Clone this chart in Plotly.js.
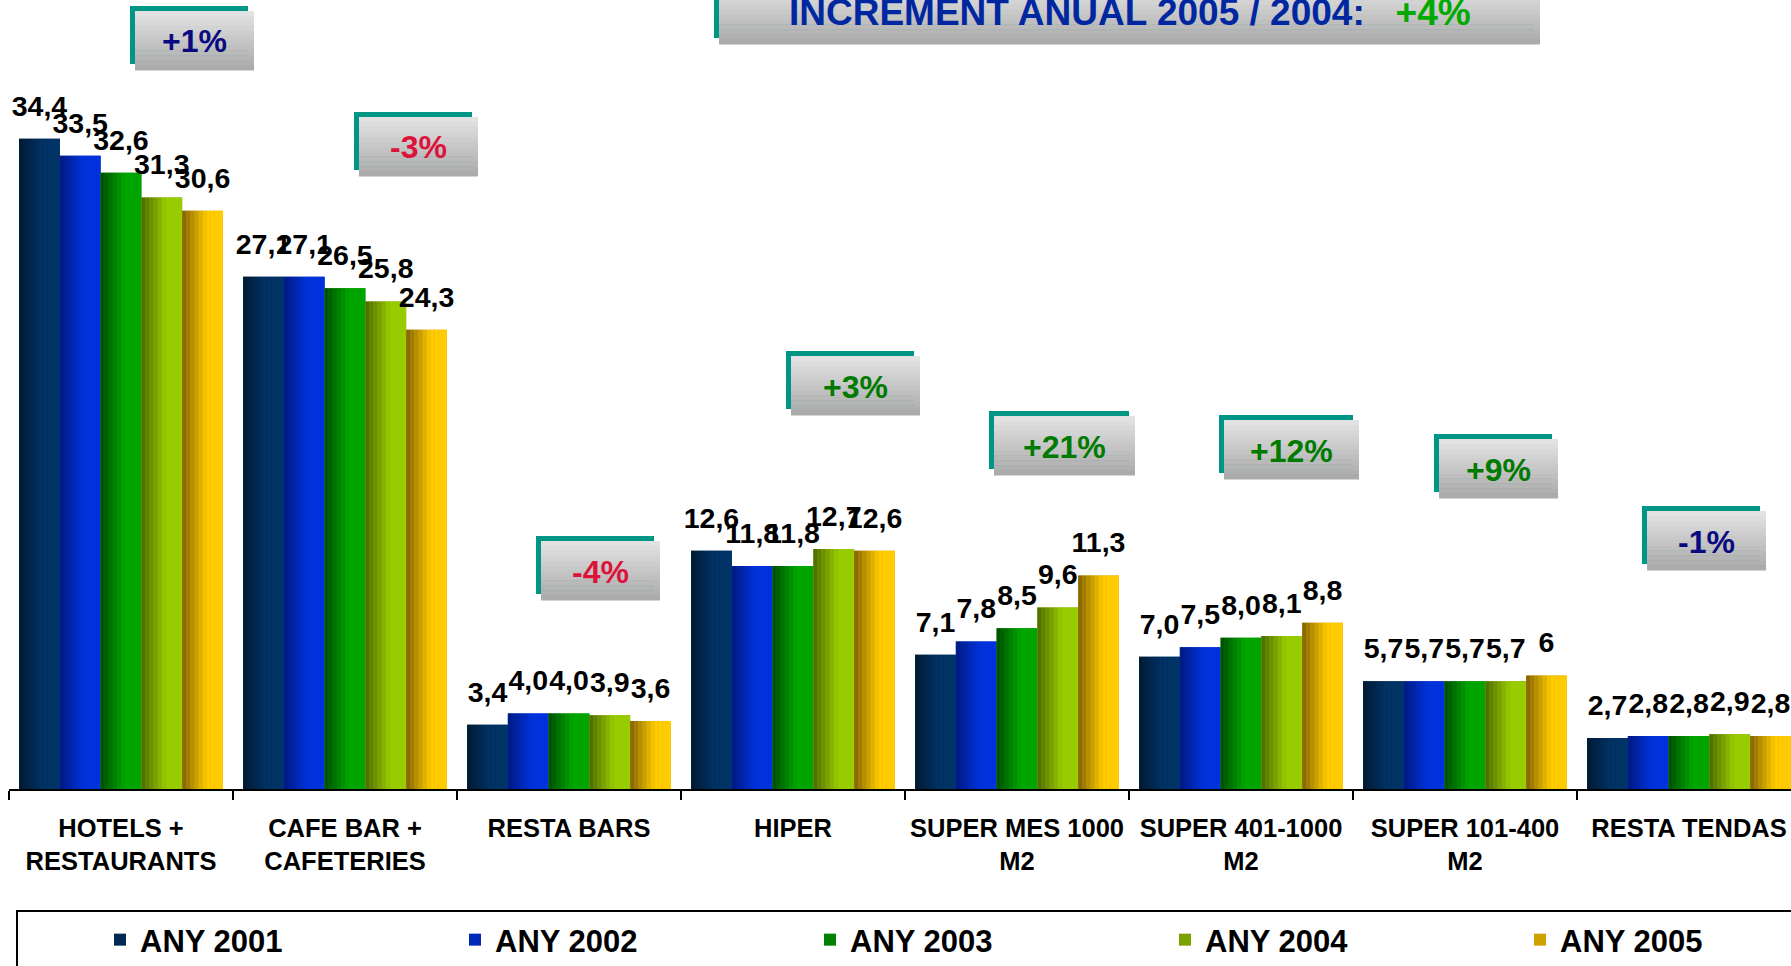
<!DOCTYPE html>
<html>
<head>
<meta charset="utf-8">
<script src="https://cdn.plot.ly/plotly-3.0.1.min.js"></script>
<style>html,body{margin:0;padding:0;background:#fff;overflow:hidden}</style>
</head>
<body>
<div id="chart" style="width:1791px;height:966px"></div>
<script>
// ---------- DATA ----------
const categories = ['HOTELS +<br>RESTAURANTS', 'CAFE BAR +<br>CAFETERIES', 'RESTA BARS', 'HIPER',
  'SUPER MES 1000<br>M2', 'SUPER 401-1000<br>M2', 'SUPER 101-400<br>M2', 'RESTA TENDAS'];
const seriesNames = ['ANY 2001', 'ANY 2002', 'ANY 2003', 'ANY 2004', 'ANY 2005'];
const any2001 = ['34,4', '27,1', '3,4', '12,6', '7,1', '7,0', '5,7', '2,7'];
const any2002 = ['33,5', '27,1', '4,0', '11,8', '7,8', '7,5', '5,7', '2,8'];
const any2003 = ['32,6', '26,5', '4,0', '11,8', '8,5', '8,0', '5,7', '2,8'];
const any2004 = ['31,3', '25,8', '3,9', '12,7', '9,6', '8,1', '5,7', '2,9'];
const any2005 = ['30,6', '24,3', '3,6', '12,6', '11,3', '8,8', '6', '2,8'];
const changeLabels = ['+1%', '-3%', '-4%', '+3%', '+21%', '+12%', '+9%', '-1%'];
const titleText = 'INCREMENT ANUAL 2005 / 2004:';
const titleChange = '+4%';

// ---------- STYLE ----------
const FONT = 'Liberation Sans, Arial, sans-serif';
const W = 1791, H = 966, ML = 9, PW = 1782, PH = 789, CATPX = 224, PXPERUNIT = 18.9;
const seriesColors = [
  ['#001a33', '#003366'],
  ['#001a80', '#0033dd'],
  ['#004c00', '#00a600'],
  ['#4d6600', '#99cc00'],
  ['#806000', '#ffcc00']
];
const NAVY = '#0a0a80', RED = '#dc143c', GREEN = '#007a00';
const changeColors = [NAVY, RED, RED, GREEN, GREEN, GREEN, GREEN, NAVY];
// box geometry in page pixels [x0, y0, x1, y1]
const changeBoxes = [
  [135, 11, 254, 70], [359, 117, 478, 176], [541, 541, 660, 600], [791, 356, 920, 415],
  [994, 416, 1135, 475], [1224, 420, 1359, 479], [1439, 439, 1558, 498], [1647, 511, 1766, 570]
];
const titleBox = [719, -15, 1540, 44];

function hex2rgb(h) { return [1, 3, 5].map(i => parseInt(h.substr(i, 2), 16)); }
function lerp(a, b, t) {
  const A = hex2rgb(a), B = hex2rgb(b);
  return 'rgb(' + A.map((v, i) => Math.round(v + (B[i] - v) * t)).join(',') + ')';
}
const parse = s => parseFloat(s.replace(',', '.'));
const px2x = p => (p - ML) / PW;
const py2y = p => 1 - p / PH;

const series = [any2001, any2002, any2003, any2004, any2005];
const xIdx = categories.map((c, i) => i);
const GROUP = 0.91, BW = GROUP / series.length, STRIPS = 10;

const traces = [];
const labelTraces = [];
series.forEach((s, si) => {
  const y = s.map(parse);
  const off0 = -GROUP / 2 + si * BW;
  const [dark, bright] = seriesColors[si];
  const base = {
    type: 'bar', x: xIdx, y: y, width: BW, offset: off0, name: seriesNames[si],
    legendgroup: seriesNames[si], marker: {color: lerp(dark, bright, 0.6), line: {width: 0}},
    hoverinfo: 'skip'
  };
  if (si === series.length - 1) base.legendwidth = 150;
  traces.push(base);
  for (let k = 0; k < STRIPS; k++) {
    const t = Math.min(1, (k + 0.5) / (STRIPS * 0.6));
    traces.push({
      type: 'bar', x: xIdx, y: y, width: BW / STRIPS, offset: off0 + k * BW / STRIPS,
      legendgroup: seriesNames[si], showlegend: false, hoverinfo: 'skip',
      marker: {color: lerp(dark, bright, t), line: {width: 0}}
    });
  }
  labelTraces.push({
    type: 'scatter', mode: 'markers+text', x: xIdx.map(i => i + off0 + BW / 2), y: y,
    text: s, textposition: 'top center', cliponaxis: false, showlegend: false, hoverinfo: 'skip',
    textfont: {family: FONT, size: 28.5, color: '#000', weight: 'bold'},
    marker: {size: 24, opacity: 0}
  });
});

// ---------- SHAPES / ANNOTATIONS ----------
const shapes = [];
const annotations = [];
function gradBox(b) {
  const [x0, y0, x1, y1] = b;
  shapes.push({type: 'rect', xref: 'paper', yref: 'paper', x0: px2x(x0 - 5), x1: px2x(x1 - 6),
    y0: py2y(y0 - 5), y1: py2y(y1 - 6), fillcolor: '#009685', line: {width: 0}});
  const N = 12;
  for (let k = 0; k < N; k++) {
    const a = y0 + (y1 - y0) * k / N, c = y0 + (y1 - y0) * (k + 1) / N;
    shapes.push({type: 'rect', xref: 'paper', yref: 'paper', x0: px2x(x0), x1: px2x(x1),
      y0: py2y(a), y1: py2y(c + 0.5), fillcolor: lerp('#e4e4e4', '#a8a8a8', (k + 0.5) / N), line: {width: 0}});
  }
}
changeBoxes.forEach((b, i) => {
  gradBox(b);
  annotations.push({xref: 'paper', yref: 'paper', x: px2x((b[0] + b[2]) / 2), y: py2y((b[1] + b[3]) / 2 + 1),
    xanchor: 'center', yanchor: 'middle', showarrow: false, text: changeLabels[i],
    font: {family: FONT, size: 32, color: changeColors[i], weight: 'bold'}});
});
gradBox(titleBox);
annotations.push({xref: 'paper', yref: 'paper', x: px2x(1130), y: py2y(13),
  xanchor: 'center', yanchor: 'middle', showarrow: false,
  text: titleText + '\u00a0\u00a0\u00a0<span style="color:#00aa00">' + titleChange + '</span>',
  font: {family: FONT, size: 37, color: '#0027a0', weight: 'bold'}});
// legend frame
shapes.push({type: 'rect', xref: 'paper', yref: 'paper', x0: px2x(17), x1: px2x(1830),
  y0: py2y(911), y1: py2y(1010), line: {color: '#000', width: 2}, fillcolor: 'rgba(0,0,0,0)'});

const boundaries = [];
for (let i = 0; i <= categories.length; i++) boundaries.push(i - 0.5);

const layout = {
  width: W, height: H,
  margin: {l: ML, r: W - ML - PW, t: 0, b: H - PH, autoexpand: false},
  paper_bgcolor: '#fff', plot_bgcolor: '#fff',
  font: {family: FONT, color: '#000'},
  barmode: 'overlay',
  showlegend: true,
  legend: {orientation: 'h', x: px2x(100), xanchor: 'left', y: py2y(940), yanchor: 'middle',
    bgcolor: 'rgba(0,0,0,0)', borderwidth: 0, entrywidth: 310, entrywidthmode: 'pixels',
    font: {family: FONT, size: 31, color: '#000', weight: 'bold'}},
  xaxis: {type: 'linear', range: [-0.5, -0.5 + PW / CATPX], tickmode: 'array', tickvals: xIdx,
    ticktext: categories, ticks: '', showgrid: false, zeroline: false, showline: true,
    linecolor: '#000', linewidth: 2, ticklabelstandoff: 15, fixedrange: true,
    tickfont: {family: FONT, size: 25.5, color: '#000', weight: 'bold'},
    minor: {tickmode: 'array', tickvals: boundaries, ticks: 'outside', ticklen: 9, tickwidth: 2,
      tickcolor: '#000', showgrid: false}},
  yaxis: {range: [0, PH / PXPERUNIT], visible: false, fixedrange: true},
  shapes: shapes,
  annotations: annotations
};

Plotly.newPlot('chart', traces.concat(labelTraces), layout, {displayModeBar: false, staticPlot: true});
</script>
</body>
</html>
